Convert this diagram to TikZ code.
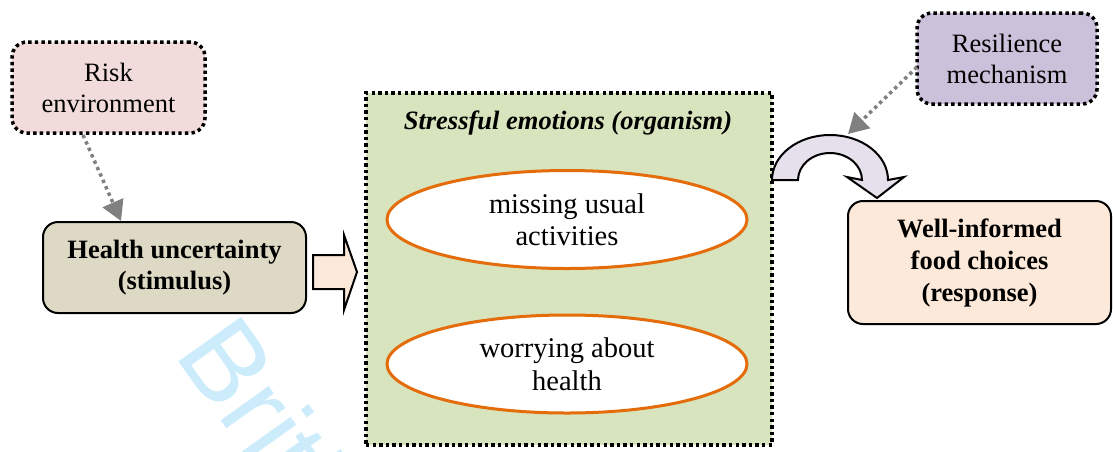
\documentclass[tikz,border=0pt]{standalone}
\usepackage{fontspec}
\setmainfont{Liberation Serif}
\newfontfamily\wmfont{Liberation Sans}
\usetikzlibrary{shapes.geometric,arrows.meta,calc}
\definecolor{riskfill}{HTML}{F2DCDB}
\definecolor{healthfill}{HTML}{DDD9C4}
\definecolor{peach}{HTML}{FDE9D9}
\definecolor{orgfill}{HTML}{D7E4BD}
\definecolor{ellorange}{HTML}{E46C0A}
\definecolor{lavender}{HTML}{E5E0EC}
\definecolor{resilfill}{HTML}{CCC1DA}
\definecolor{arrowgray}{HTML}{808080}
\definecolor{wmblue}{RGB}{204,236,252}
\tikzset{
  txt/.style={font=\fontsize{26.5}{31}\selectfont, align=center},
  dotbox/.style={draw=black, line width=3.5pt, dash pattern=on 3.4pt off 3.2pt, rounded corners=15pt, inner sep=0pt},
  solidbox/.style={draw=black, line width=2pt, rounded corners=15pt, inner sep=0pt},
  ovalline/.style={draw=ellorange, line width=3pt, fill=white},
  ovaltext/.style={inner sep=0pt, font=\fontsize{28.5}{32.5}\selectfont, align=center},
  grayarrow/.style={draw=arrowgray, line width=3.5pt, dash pattern=on 3.4pt off 3.6pt, -{Triangle[length=20pt,width=22pt,fill=arrowgray]}},
  blockarrow/.style={draw=black, line width=2pt, line join=miter},
}
\begin{document}
\begin{tikzpicture}[x=1pt,y=1pt]
\useasboundingbox (0,0) rectangle (1113,-451);
\begin{scope}
\clip (0,0) rectangle (1113,-451);
\node[anchor=base west, rotate=-54.5, text=wmblue, inner sep=0pt, font=\wmfont\fontsize{112}{112}\selectfont] (wm) at (173,-354) {British};
\end{scope}

% organism box
\node[dotbox, fill=orgfill, rounded corners=0pt, minimum width=406pt, minimum height=352pt] (org) at (569,-269) {};
\node[txt, font=\fontsize{26.5}{30}\selectfont\bfseries\itshape] (orgtitle) at (568,-123) {Stressful emotions (organism)};
\coordinate (c1) at (567,-219.5);
\coordinate (c2) at (567,-364);
\draw[ovalline] (c1) ellipse [x radius=180, y radius=49];
\draw[ovalline] (c2) ellipse [x radius=180, y radius=49];
\node[ovaltext] (ell1) at (c1) {missing usual\\activities};
\node[ovaltext] (ell2) at (c2) {worrying about\\health};

% left boxes
\node[dotbox, fill=riskfill, minimum width=193pt, minimum height=91pt, txt] (risk) at (108.5,-87.5) {Risk\\environment};
\node[solidbox, fill=healthfill, minimum width=263pt, minimum height=91pt, txt, font=\fontsize{26.5}{31}\selectfont\bfseries] (health) at (174.5,-267.5) {Health uncertainty\\(stimulus)};

% right boxes
\node[solidbox, fill=peach, minimum width=263pt, minimum height=123pt, txt, font=\fontsize{26.5}{32}\selectfont\bfseries] (resp) at (979.5,-262.5) {Well-informed\\food choices\\(response)};
\node[dotbox, fill=resilfill, minimum width=180pt, minimum height=91pt, txt] (resil) at (1007,-58.5) {Resilience\\mechanism};

% block arrow health -> organism
\draw[blockarrow, fill=peach] (313,-255) -- (344,-255) -- (344,-235) -- (357,-272) -- (344,-310) -- (344,-289) -- (313,-289) -- cycle;

% curved arrow organism -> response
\draw[blockarrow, fill=lavender] (772,-180) arc[start angle=180, end angle=0, x radius=58, y radius=45]
  -- (904,-177) -- (877,-198) -- (847,-177) -- (862,-180)
  arc[start angle=0, end angle=180, x radius=32, y radius=27] -- cycle;

% gray dotted arrows
\coordinate (a1s) at (83,-135);
\coordinate (a1e) at (121,-221);
\draw[grayarrow] (a1s) -- (a1e);
\coordinate (a2s) at (917,-67);
\coordinate (a2e) at (848,-134);
\draw[grayarrow] (a2s) -- (a2e);
\end{tikzpicture}
\end{document}
